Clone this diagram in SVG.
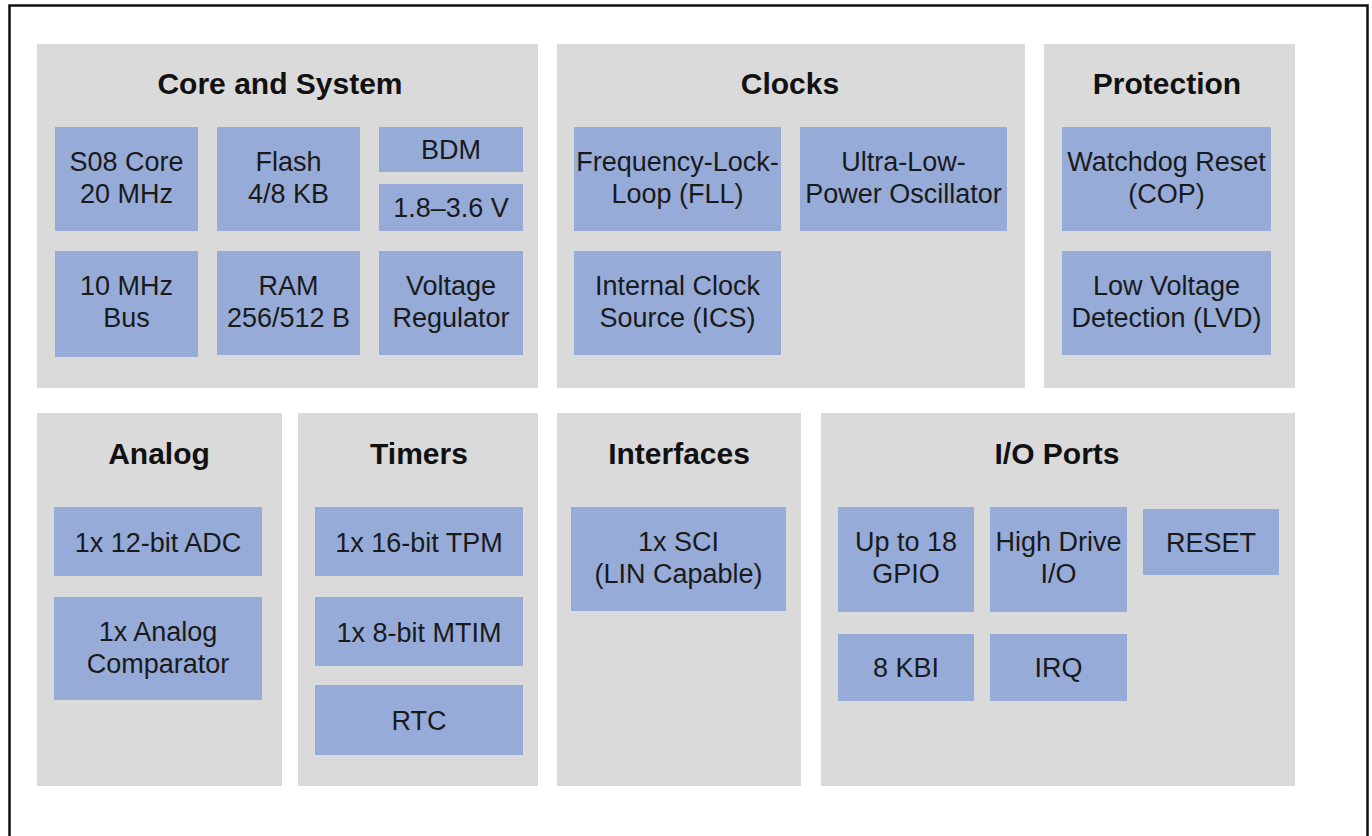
<svg xmlns="http://www.w3.org/2000/svg" width="1372" height="836" viewBox="0 0 1372 836">
<style>
.panel{fill:#dadada}
.box{fill:#96abd8}
.title{font-family:"Liberation Sans",Arial,sans-serif;font-weight:bold;font-size:30px;fill:#111;text-anchor:middle}
.lbl{font-family:"Liberation Sans",Arial,sans-serif;font-size:27px;fill:#1a1a1a;text-anchor:middle}
.frame{fill:none;stroke:#111;stroke-width:2.5}
</style>
<rect x="0" y="0" width="1372" height="836" fill="#ffffff"/>
<path class="frame" d="M9.5,840 V5.5 H1367.5 V840"/>

<g id="core-and-system">
<rect class="panel" x="37" y="44" width="501" height="344"/>
<text class="title" x="280" y="94">Core and System</text>
<g id="s08-core"><rect class="box" x="55" y="127" width="143" height="104"/><text class="lbl" x="126.5" y="171">S08 Core</text><text class="lbl" x="126.5" y="203">20 MHz</text></g>
<g id="flash"><rect class="box" x="217" y="127" width="143" height="104"/><text class="lbl" x="288.5" y="171">Flash</text><text class="lbl" x="288.5" y="203">4/8 KB</text></g>
<g id="bdm"><rect class="box" x="379" y="127" width="144" height="45"/><text class="lbl" x="451" y="159">BDM</text></g>
<g id="voltage-range"><rect class="box" x="379" y="184" width="144" height="47"/><text class="lbl" x="451" y="217">1.8–3.6 V</text></g>
<g id="bus"><rect class="box" x="55" y="251" width="143" height="106"/><text class="lbl" x="126.5" y="295">10 MHz</text><text class="lbl" x="126.5" y="327">Bus</text></g>
<g id="ram"><rect class="box" x="217" y="251" width="143" height="104"/><text class="lbl" x="288.5" y="295">RAM</text><text class="lbl" x="288.5" y="327">256/512 B</text></g>
<g id="voltage-regulator"><rect class="box" x="379" y="251" width="144" height="104"/><text class="lbl" x="451" y="295">Voltage</text><text class="lbl" x="451" y="327">Regulator</text></g>
</g>

<g id="clocks">
<rect class="panel" x="557" y="44" width="468" height="344"/>
<text class="title" x="790" y="94">Clocks</text>
<g id="fll"><rect class="box" x="574" y="127" width="207" height="104"/><text class="lbl" x="677.5" y="171">Frequency-Lock-</text><text class="lbl" x="677.5" y="203">Loop (FLL)</text></g>
<g id="ulp-osc"><rect class="box" x="800" y="127" width="207" height="104"/><text class="lbl" x="903.5" y="171">Ultra-Low-</text><text class="lbl" x="903.5" y="203">Power Oscillator</text></g>
<g id="ics"><rect class="box" x="574" y="251" width="207" height="104"/><text class="lbl" x="677.5" y="295">Internal Clock</text><text class="lbl" x="677.5" y="327">Source (ICS)</text></g>
</g>

<g id="protection">
<rect class="panel" x="1044" y="44" width="251" height="344"/>
<text class="title" x="1167" y="94">Protection</text>
<g id="watchdog"><rect class="box" x="1062" y="127" width="209" height="104"/><text class="lbl" x="1166.5" y="171">Watchdog Reset</text><text class="lbl" x="1166.5" y="203">(COP)</text></g>
<g id="lvd"><rect class="box" x="1062" y="251" width="209" height="104"/><text class="lbl" x="1166.5" y="295">Low Voltage</text><text class="lbl" x="1166.5" y="327">Detection (LVD)</text></g>
</g>

<g id="analog">
<rect class="panel" x="37" y="413" width="245" height="373"/>
<text class="title" x="159" y="464">Analog</text>
<g id="adc"><rect class="box" x="54" y="507" width="208" height="69"/><text class="lbl" x="158" y="552">1x 12-bit ADC</text></g>
<g id="comparator"><rect class="box" x="54" y="597" width="208" height="103"/><text class="lbl" x="158" y="641">1x Analog</text><text class="lbl" x="158" y="673">Comparator</text></g>
</g>

<g id="timers">
<rect class="panel" x="298" y="413" width="240" height="373"/>
<text class="title" x="419" y="464">Timers</text>
<g id="tpm"><rect class="box" x="315" y="507" width="208" height="69"/><text class="lbl" x="419" y="552">1x 16-bit TPM</text></g>
<g id="mtim"><rect class="box" x="315" y="597" width="208" height="69"/><text class="lbl" x="419" y="642">1x 8-bit MTIM</text></g>
<g id="rtc"><rect class="box" x="315" y="685" width="208" height="70"/><text class="lbl" x="419" y="730">RTC</text></g>
</g>

<g id="interfaces">
<rect class="panel" x="557" y="413" width="244" height="373"/>
<text class="title" x="679" y="464">Interfaces</text>
<g id="sci"><rect class="box" x="571" y="507" width="215" height="104"/><text class="lbl" x="678.5" y="551">1x SCI</text><text class="lbl" x="678.5" y="583">(LIN Capable)</text></g>
</g>

<g id="io-ports">
<rect class="panel" x="821" y="413" width="474" height="373"/>
<text class="title" x="1057" y="464">I/O Ports</text>
<g id="gpio"><rect class="box" x="838" y="507" width="136" height="105"/><text class="lbl" x="906" y="551">Up to 18</text><text class="lbl" x="906" y="583">GPIO</text></g>
<g id="high-drive"><rect class="box" x="990" y="507" width="137" height="105"/><text class="lbl" x="1058.5" y="551">High Drive</text><text class="lbl" x="1058.5" y="583">I/O</text></g>
<g id="reset"><rect class="box" x="1143" y="509" width="136" height="66"/><text class="lbl" x="1211" y="552">RESET</text></g>
<g id="kbi"><rect class="box" x="838" y="634" width="136" height="67"/><text class="lbl" x="906" y="677">8 KBI</text></g>
<g id="irq"><rect class="box" x="990" y="634" width="137" height="67"/><text class="lbl" x="1058.5" y="677">IRQ</text></g>
</g>

<g id="connectors"></g>
</svg>
